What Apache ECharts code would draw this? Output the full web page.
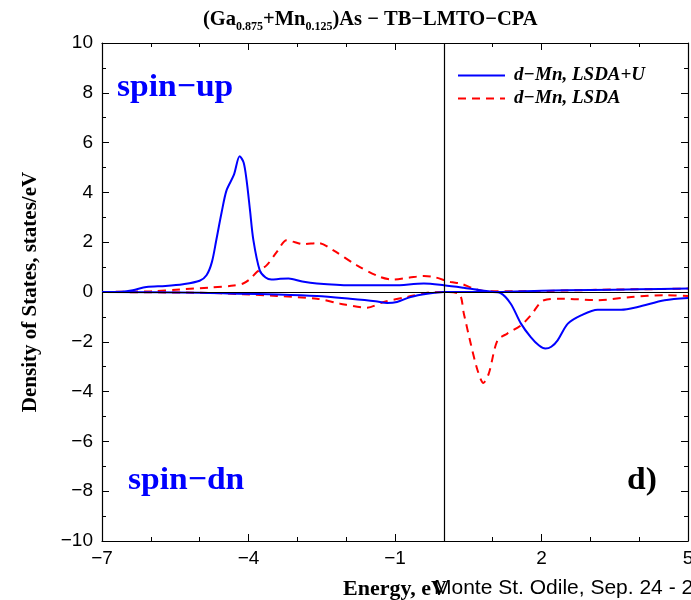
<!DOCTYPE html>
<html>
<head>
<meta charset="utf-8">
<script src="https://cdn.jsdelivr.net/npm/echarts@6/dist/echarts.min.js"></script>
<style>html,body{margin:0;padding:0;background:#fff}#c{width:691px;height:600px}</style>
</head>
<body>
<div id="c"></div>
<script>
// ---- data ----
const xTicks = [-7, -4, -1, 2, 5];
const yTicks = [-10, -8, -6, -4, -2, 0, 2, 4, 6, 8, 10];

const blueUpE = [-7, -6.6, -6.37, -6.09, -5.7, -5.34, -5.0, -4.86, -4.75, -4.66, -4.55, -4.45, -4.3, -4.18, -4.1, -4.04, -3.97, -3.9, -3.77, -3.65, -3.53, -3.35, -3.18, -2.9, -2.6, -1.92, -1.03, -0.41, 0, 0.4, 0.75, 1.1, 2, 3, 4, 5];
const blueUpD = [0, 0.01, 0.07, 0.2, 0.24, 0.31, 0.45, 0.67, 1.2, 2.08, 3.2, 4.08, 4.7, 5.45, 5.2, 4.5, 3.3, 2.08, 0.87, 0.58, 0.5, 0.53, 0.54, 0.42, 0.34, 0.27, 0.27, 0.34, 0.27, 0.17, 0.07, 0.0, 0.05, 0.08, 0.11, 0.14];

const blueDnE = [-7, -5, -4.2, -3.4, -2.6, -1.92, -1.4, -1.16, -0.96, -0.68, -0.34, 0, 0.6, 1.0, 1.16, 1.37, 1.58, 1.78, 1.95, 2.08, 2.2, 2.33, 2.54, 2.81, 3.15, 3.63, 3.97, 4.52, 5];
const blueDnD = [0, -0.03, -0.07, -0.1, -0.16, -0.27, -0.37, -0.44, -0.4, -0.2, -0.07, 0, 0, 0, -0.04, -0.47, -1.27, -1.81, -2.15, -2.27, -2.2, -1.94, -1.27, -0.94, -0.71, -0.71, -0.6, -0.33, -0.24];

const redUpE = [-7, -6, -5.41, -4.79, -4.3, -4.11, -3.95, -3.83, -3.63, -3.42, -3.22, -3.05, -2.88, -2.57, -2.26, -1.78, -1.3, -1.03, -0.7, -0.41, -0.2, 0.14, 0.34, 0.6, 0.82, 1.5, 2.5, 3.5, 4.5, 5];
const redUpD = [0, 0.03, 0.1, 0.18, 0.26, 0.34, 0.55, 0.8, 1.07, 1.61, 2.08, 2.0, 1.92, 1.97, 1.67, 1.07, 0.6, 0.5, 0.58, 0.64, 0.6, 0.4, 0.34, 0.15, 0.04, 0.03, 0.06, 0.1, 0.12, 0.14];

const redDnE = [-7, -5, -4.11, -3.42, -2.6, -2.12, -1.57, -1.23, -0.75, -0.34, 0, 0.31, 0.41, 0.55, 0.69, 0.81, 0.92, 1.1, 1.3, 1.58, 1.78, 2.05, 2.47, 3.15, 3.84, 4.52, 5];
const redDnD = [0, -0.03, -0.09, -0.16, -0.27, -0.47, -0.63, -0.4, -0.2, -0.03, 0, -0.07, -0.87, -2.07, -3.14, -3.65, -3.28, -1.94, -1.67, -1.34, -0.94, -0.33, -0.27, -0.33, -0.2, -0.13, -0.16];

const nameU = 'd\u2212Mn, LSDA+U';
const nameL = 'd\u2212Mn, LSDA';

function pairs(a, b) { return a.map((v, i) => [v, b[i]]); }

const serif = '"Liberation Serif", "Times New Roman", serif';
const sans = '"Liberation Sans", Arial, sans-serif';

const chart = echarts.init(document.getElementById('c'), null, { renderer: 'canvas' });

const axisCommon = {
  axisLine: { show: true, onZero: false, lineStyle: { color: '#000', width: 1.2 } },
  axisTick: { show: true, inside: true, length: 7, lineStyle: { color: '#000', width: 1 } },
  minorTick: { show: true, length: 4, lineStyle: { color: '#000', width: 1 } },
  splitLine: { show: false }
};

const blueStyle = { color: '#0000ff', width: 2 };
const redStyle = { color: '#ff0000', width: 2, type: [8, 6] };

chart.setOption({
  animation: false,
  backgroundColor: '#fff',
  title: {
    text: '{b|(Ga}{s|0.875}{b|+Mn}{s|0.125}{b|)As \u2212 TB\u2212LMTO\u2212CPA}',
    left: 203,
    top: 7,
    padding: 0,
    textStyle: {
      rich: {
        b: { fontFamily: serif, fontWeight: 'bold', fontSize: 20.5, color: '#000', lineHeight: 26, verticalAlign: 'middle' },
        s: { fontFamily: serif, fontWeight: 'bold', fontSize: 12, color: '#000', lineHeight: 10, verticalAlign: 'bottom' }
      }
    }
  },
  grid: { left: 102, right: 3, top: 43, bottom: 59, containLabel: false, outerBoundsMode: 'none' },
  legend: {
    orient: 'vertical',
    left: 457,
    top: 66,
    padding: 0,
    itemWidth: 47,
    itemHeight: 14,
    itemGap: 4,
    data: [nameU, nameL],
    itemStyle: { opacity: 0 },
    textStyle: { fontFamily: serif, fontWeight: 'bold', fontStyle: 'italic', fontSize: 19, lineHeight: 19, color: '#000', padding: [0, 0, 0, 4] }
  },
  xAxis: [
    Object.assign({}, axisCommon, {
      type: 'value', min: -7, max: 5, interval: 3, position: 'bottom',
      minorTick: Object.assign({}, axisCommon.minorTick, { splitNumber: 3 }),
      axisLabel: { show: true, margin: 8, fontFamily: sans, fontSize: 19, color: '#000',
        formatter: v => (xTicks.includes(v) ? String(v).replace('-', '\u2212') : '') },
      name: 'Energy, eV', nameLocation: 'middle', nameGap: 37,
      nameTextStyle: { fontFamily: serif, fontWeight: 'bold', fontSize: 22, color: '#000' }
    }),
    Object.assign({}, axisCommon, {
      type: 'value', min: -7, max: 5, interval: 3, position: 'top',
      minorTick: Object.assign({}, axisCommon.minorTick, { splitNumber: 3 }),
      axisLabel: { show: false }
    })
  ],
  yAxis: [
    Object.assign({}, axisCommon, {
      type: 'value', min: -10, max: 10, interval: 2, position: 'left',
      minorTick: Object.assign({}, axisCommon.minorTick, { splitNumber: 2 }),
      axisLabel: { show: true, margin: 9, fontFamily: sans, fontSize: 19, color: '#000',
        formatter: v => (yTicks.includes(v) ? String(v).replace('-', '\u2212') : '') },
      name: 'Density of States, states/eV', nameLocation: 'middle', nameGap: 61,
      nameTextStyle: { fontFamily: serif, fontWeight: 'bold', fontSize: 21, color: '#000' }
    }),
    Object.assign({}, axisCommon, {
      type: 'value', min: -10, max: 10, interval: 2, position: 'right',
      minorTick: Object.assign({}, axisCommon.minorTick, { splitNumber: 2 }),
      axisLabel: { show: false }
    })
  ],
  series: [
    {
      name: nameL, type: 'line', data: pairs(redUpE, redUpD), symbol: 'none',
      smooth: 0.3, lineStyle: redStyle, itemStyle: { color: '#ff0000' }, z: 3
    },
    {
      name: nameL, type: 'line', data: pairs(redDnE, redDnD), symbol: 'none',
      smooth: 0.3, lineStyle: redStyle, itemStyle: { color: '#ff0000' }, z: 3
    },
    {
      name: nameU, type: 'line', data: pairs(blueUpE, blueUpD), symbol: 'none',
      smooth: 0.3, lineStyle: blueStyle, itemStyle: { color: '#0000ff' }, z: 4,
      markLine: {
        silent: true, symbol: 'none', label: { show: false },
        lineStyle: { color: '#000', width: 1.2, type: 'solid' },
        data: [{ xAxis: 0 }, { yAxis: 0 }]
      }
    },
    {
      name: nameU, type: 'line', data: pairs(blueDnE, blueDnD), symbol: 'none',
      smooth: 0.3, lineStyle: blueStyle, itemStyle: { color: '#0000ff' }, z: 4
    }
  ],
  graphic: [
    { type: 'text', left: 117, top: 72, scaleX: 1.05, style: { text: 'spin\u2212up', fontFamily: serif, fontWeight: 'bold', fontSize: 32, fill: '#0000ff' } },
    { type: 'text', left: 128, top: 465, scaleX: 1.05, style: { text: 'spin\u2212dn', fontFamily: serif, fontWeight: 'bold', fontSize: 32, fill: '#0000ff' } },
    { type: 'text', left: 627, top: 465, scaleX: 1.05, style: { text: 'd)', fontFamily: serif, fontWeight: 'bold', fontSize: 32, fill: '#000' } },
    { type: 'text', left: 434, top: 578, style: { text: 'Monte St. Odile, Sep. 24 - 26', fontFamily: sans, fontSize: 21, fill: '#000' } }
  ]
});
</script>
</body>
</html>
